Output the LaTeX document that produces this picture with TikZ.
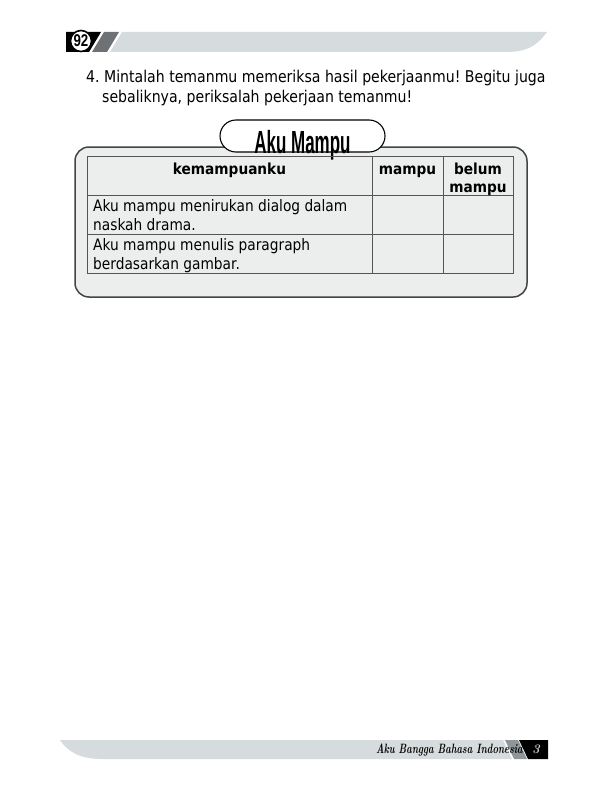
\documentclass[tikz,border=0pt]{standalone}
\usepackage{fontspec}
\newfontfamily\bodyfont{DejaVu Sans}[FakeStretch=0.87, BoldFeatures={FakeStretch=0.9}]
\newfontfamily\titlefont{Liberation Sans}
\definecolor{bandgray}{HTML}{D6DBDD}
\definecolor{stripegray}{HTML}{6E7275}
\definecolor{midgray}{HTML}{8E9699}
\definecolor{boxfill}{HTML}{ECEEEE}
\definecolor{boxline}{HTML}{444444}
\definecolor{gridline}{HTML}{555555}
\tikzset{
  bodytxt/.style={inner sep=0pt, anchor=base west, font=\bodyfont\fontsize{16.2}{19}\selectfont},
  celltxt/.style={inner sep=0pt, anchor=base west, font=\bodyfont\fontsize{15.8}{18}\selectfont},
  headtxt/.style={inner sep=0pt, anchor=base, font=\bodyfont\bfseries\fontsize{15.2}{18}\selectfont},
  gridln/.style={draw=gridline, line width=0.9pt},
}
\frenchspacing
\begin{document}
\begin{tikzpicture}[x=1pt,y=-1pt]
\useasboundingbox[fill=white] (0,0) rectangle (612,792);

% ---------- header band ----------
\fill[bandgray] (122,32) -- (547,32) .. controls (536,47) and (526,52) .. (505,52) -- (110,52) -- cycle;
\fill[stripegray] (104,32) -- (119,32) -- (107,52) -- (92,52) -- cycle;
\fill[black] (66,32) -- (101,32) -- (89,52) -- (66,52) -- cycle;
\node[circle, draw=black, line width=1.6pt, fill=white, minimum size=21pt, inner sep=0pt,
      font=\titlefont\bfseries\fontsize{17}{17}\selectfont] (pg) at (81,41)
      {\scalebox{0.78}[1]{92}};

% ---------- instruction ----------
\node[bodytxt] (l1) at (86,82.5) {4. Mintalah temanmu memeriksa hasil pekerjaanmu! Begitu juga};
\node[bodytxt] (l2) at (102,102) {sebaliknya, periksalah pekerjaan temanmu!};

% ---------- box ----------
\node[draw=boxline, line width=1.5pt, fill=boxfill, rounded corners=14pt,
      minimum width=452pt, minimum height=150pt, inner sep=0pt] (box) at (301,222) {};
\node[draw=black, line width=1.1pt, fill=white, rounded corners=16pt,
      minimum width=165pt, minimum height=32pt, inner sep=0pt] (tab) at (302.5,136) {};
\node[inner sep=0pt, anchor=base, font=\titlefont\bfseries\fontsize{32}{32}\selectfont] (title) at (302.5,153)
      {\scalebox{0.53}[1]{Aku Mampu}};

% ---------- table ----------
\coordinate (tl) at (87,156);
\coordinate (tr) at (513,156);
\coordinate (bl) at (87,273);
\coordinate (br) at (513,273);
\coordinate (c1t) at (372,156);
\coordinate (c1b) at (372,273);
\coordinate (c2t) at (443,156);
\coordinate (c2b) at (443,273);
\coordinate (r1l) at (87,195);
\coordinate (r1r) at (513,195);
\coordinate (r2l) at (87,234);
\coordinate (r2r) at (513,234);
\draw[gridln] (tl) rectangle (br);
\draw[gridln] (c1t) -- (c1b);
\draw[gridln] (c2t) -- (c2b);
\draw[gridln] (r1l) -- (r1r);
\draw[gridln] (r2l) -- (r2r);

\node[headtxt] (h1) at (229.5,174) {kemampuanku};
\node[headtxt] (h2) at (407.5,174) {mampu};
\node[headtxt] (h3a) at (478,174) {belum};
\node[headtxt] (h3b) at (478,192) {mampu};

\node[celltxt] (a1) at (93,211) {Aku mampu menirukan dialog dalam};
\node[celltxt] (a2) at (93,230) {naskah drama.};
\node[celltxt] (b1) at (93,250) {Aku mampu menulis paragraph};
\node[celltxt] (b2) at (93,269) {berdasarkan gambar.};

% ---------- footer band ----------
\fill[bandgray] (60,740) -- (503,740) -- (512,759) -- (102,759) .. controls (80,759) and (68,752) .. (60,740) -- cycle;
\fill[midgray] (505,740) -- (518,740) -- (527,759) -- (514,759) -- cycle;
\fill[black] (519,740) -- (548,740) -- (548,759) -- (528,759) -- cycle;
\node[inner sep=0pt, anchor=base east, font=\bfseries\itshape\fontsize{13.5}{15}\selectfont] (ft) at (523,753)
      {\scalebox{0.7}[1]{Aku Bangga Bahasa Indonesia}};
\node[inner sep=0pt, anchor=base, text=gray!40, font=\bfseries\itshape\fontsize{13}{14}\selectfont] (fn) at (536,753) {3};
\end{tikzpicture}
\end{document}
